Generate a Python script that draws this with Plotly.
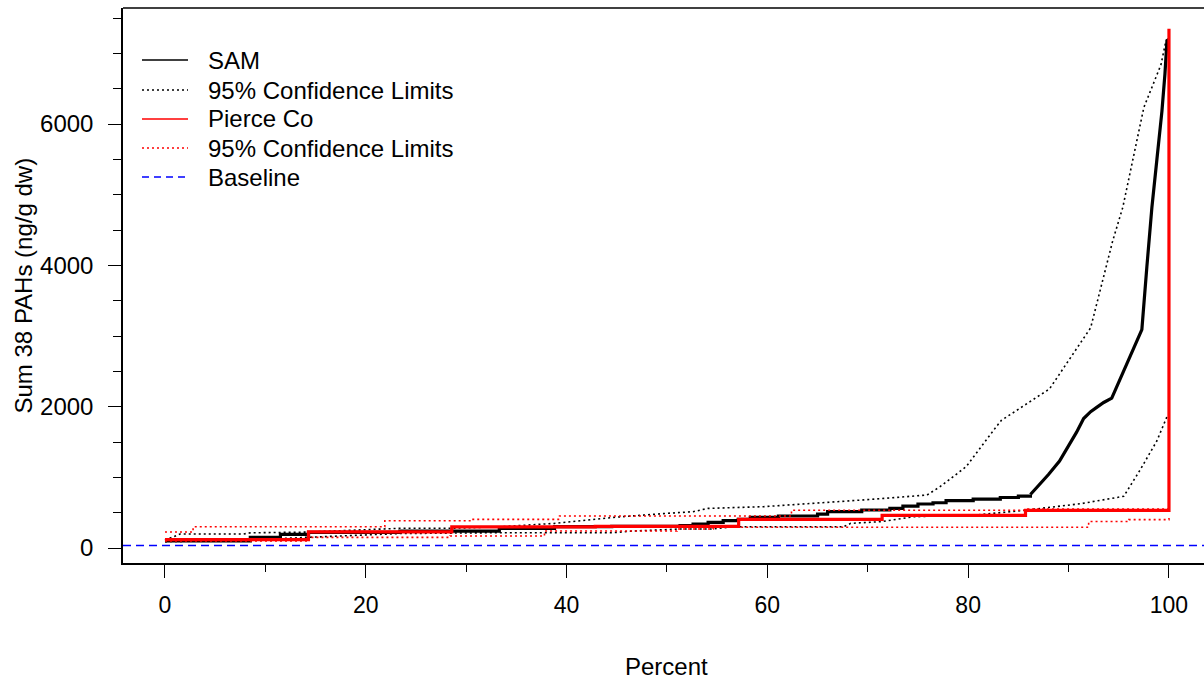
import plotly.graph_objects as go

# ---- data -------------------------------------------------------------
# SAM cumulative distribution (percent, Sum 38 PAHs ng/g dw)
# lower part: step function
sam_step_pct = [0, 8.5, 11.5, 14.3, 23.4, 33.3, 38.8, 44.5, 51.3, 52.6, 54.1,
                55.6, 57.1, 58.3, 61.1, 65.0, 66.0, 69.4, 72.2, 73.5, 75.0,
                76.5, 77.8, 80.5, 83.2, 85.0, 86.2]
sam_step_val = [100, 151, 193, 222, 240, 279, 302, 305, 316, 340, 363,
                387, 406, 434, 453, 481, 514, 538, 561, 594, 623,
                641, 670, 693, 715, 735, 758]
# upper tail
sam_tail_pct = [86.2, 87.0, 88.0, 89.1, 90.0, 90.8, 91.5, 92.2, 92.8, 93.5,
                94.3, 95.0, 95.8, 96.5, 97.3, 97.8, 98.3, 98.8, 99.3, 99.6,
                99.8, 100]
sam_tail_val = [758, 880, 1040, 1230, 1440, 1640, 1833, 1930, 1990, 2060,
                2121, 2350, 2593, 2840, 3091, 3982, 4821, 5502, 6184, 6709,
                7180, 7200]

# SAM 95% confidence limits
sam_up_pct = [0, 1.5, 7.8, 8.5, 14.0, 23.4, 28.4, 33.3, 38.8, 44.7, 50.0,
              52.6, 54.1, 59.6, 70.4, 75.9, 77.2, 79.8, 82.8, 83.3, 88.1,
              92.2, 94.4, 95.4, 97.5, 99.2, 99.7, 100]
sam_up_val = [110, 198, 198, 215, 225, 279, 279, 300, 349, 434, 491,
              514, 561, 585, 689, 750, 868, 1151, 1717, 1806, 2252,
              3117, 4349, 4821, 6236, 6839, 7180, 7200]
sam_lo_pct = [0, 8.5, 14.0, 23.4, 33.3, 44.6, 46.6, 51.3, 54.5, 56.8, 67.6,
              68.3, 71.3, 74.6, 81.0, 85.5, 91.2, 95.5, 97.1, 98.8, 99.8, 100]
sam_lo_val = [90, 113, 150, 205, 217, 217, 240, 269, 269, 302, 302,
              349, 373, 443, 470, 532, 627, 732, 1098, 1518, 1858, 1880]

# Pierce Co cumulative distribution
pierce_pct = [0, 14.29, 28.57, 42.86, 57.14, 71.43, 85.71, 100]
pierce_val = [118, 228, 300, 305, 406, 462, 532, 7350]

# Pierce Co 95% confidence limits
pierce_up_pct = [0, 2.8, 21.9, 30.6, 39.3, 62.4, 85.7, 100]
pierce_up_val = [226, 300, 386, 406, 453, 535, 550, 560]
pierce_lo_pct = [0, 14.3, 28.4, 37.8, 51.0, 54.6, 92.0, 96.0, 100]
pierce_lo_val = [100, 150, 170, 240, 269, 295, 375, 402, 430]

baseline = 34

x_ticks = [0, 20, 40, 60, 80, 100]
y_ticks = [0, 2000, 4000, 6000]

legend_labels = ["SAM", "95% Confidence Limits", "Pierce Co",
                 "95% Confidence Limits", "Baseline"]

# ---- figure geometry ---------------------------------------------------
W, H = 1204, 683
ML, MT, MR, MB = 123, 8, 0, 120
PW, PH = W - ML - MR, H - MT - MB
FONT = "Liberation Sans, Arial, sans-serif"

DOT = "2px,3px"

fig = go.Figure()

fig.add_trace(go.Scatter(x=sam_up_pct, y=sam_up_val, mode="lines",
                         line=dict(color="black", width=1.6, dash=DOT),
                         showlegend=False, hoverinfo="skip"))
fig.add_trace(go.Scatter(x=sam_lo_pct, y=sam_lo_val, mode="lines",
                         line=dict(color="black", width=1.6, dash=DOT),
                         showlegend=False, hoverinfo="skip"))
fig.add_trace(go.Scatter(x=sam_step_pct, y=sam_step_val, mode="lines",
                         line=dict(color="black", width=3.2, shape="hv"),
                         showlegend=False))
fig.add_trace(go.Scatter(x=sam_tail_pct, y=sam_tail_val, mode="lines",
                         line=dict(color="black", width=3.2),
                         showlegend=False))
fig.add_trace(go.Scatter(x=pierce_up_pct, y=pierce_up_val, mode="lines",
                         line=dict(color="#ff0000", width=1.6, dash=DOT, shape="hv"),
                         showlegend=False, hoverinfo="skip"))
fig.add_trace(go.Scatter(x=pierce_lo_pct, y=pierce_lo_val, mode="lines",
                         line=dict(color="#ff0000", width=1.6, dash=DOT, shape="hv"),
                         showlegend=False, hoverinfo="skip"))
fig.add_trace(go.Scatter(x=pierce_pct, y=pierce_val, mode="lines",
                         line=dict(color="#ff0000", width=3.2, shape="hv"),
                         showlegend=False))

fig.add_hline(y=baseline, line=dict(color="#0000ff", width=1.5, dash="8px,5px"))

# top border of the plotting frame
fig.add_shape(type="line", xref="paper", yref="paper", x0=0, x1=1, y0=1, y1=1,
              line=dict(color="black", width=1.5))

# hand-placed legend in the upper-left corner
def px_x(px):
    return (px - ML) / PW

def px_y(py):
    return (H - MB - py) / PH

legend_styles = [
    dict(color="black", width=1.5, dash="solid"),
    dict(color="black", width=1.5, dash=DOT),
    dict(color="#ff0000", width=1.5, dash="solid"),
    dict(color="#ff0000", width=1.5, dash=DOT),
    dict(color="#0000ff", width=1.5, dash="7px,5px"),
]
row_y = [60, 90, 119, 148, 177]
for label, style, ry in zip(legend_labels, legend_styles, row_y):
    fig.add_shape(type="line", xref="paper", yref="paper",
                  x0=px_x(142), x1=px_x(188), y0=px_y(ry), y1=px_y(ry),
                  line=style)
    fig.add_annotation(text=label, xref="paper", yref="paper",
                       x=px_x(206), y=px_y(ry), xanchor="left", yanchor="middle",
                       showarrow=False, font=dict(family=FONT, size=24, color="black"))

# axis titles
fig.add_annotation(text="Percent", xref="x", yref="paper", x=50, y=0,
                   yanchor="middle", yshift=-103, showarrow=False,
                   font=dict(family=FONT, size=24, color="black"))
fig.add_annotation(text="Sum 38 PAHs (ng/g dw)", xref="paper", yref="paper",
                   x=0, y=0.5, xshift=-100, textangle=-90,
                   xanchor="center", yanchor="middle", showarrow=False,
                   font=dict(family=FONT, size=24, color="black"))

x0 = -4.18
x1 = x0 + PW / 10.04
fig.update_layout(
    width=W, height=H,
    margin=dict(l=ML, r=MR, t=MT, b=MB, pad=0),
    paper_bgcolor="white", plot_bgcolor="white",
    font=dict(family=FONT, size=24, color="black"),
    showlegend=False,
    xaxis=dict(range=[x0, x1], tickvals=x_ticks, ticks="outside", ticklen=13,
               tickwidth=1, tickcolor="black", showgrid=False, zeroline=False,
               showline=True, linecolor="black", linewidth=1.5,
               ticklabelstandoff=8,
               tickfont=dict(family=FONT, size=23, color="black"),
               minor=dict(dtick=10, tick0=0, ticks="outside", ticklen=7,
                          tickwidth=1, tickcolor="black", showgrid=False)),
    yaxis=dict(range=[-212, 7643], tickvals=y_ticks, ticks="outside", ticklen=13,
               tickwidth=1, tickcolor="black", showgrid=False, zeroline=False,
               showline=True, linecolor="black", linewidth=1.5,
               ticklabelstandoff=10,
               tickfont=dict(family=FONT, size=24, color="black"),
               minor=dict(dtick=500, tick0=0, ticks="outside", ticklen=8,
                          tickwidth=1, tickcolor="black", showgrid=False)),
)

fig.write_html("out.html")
